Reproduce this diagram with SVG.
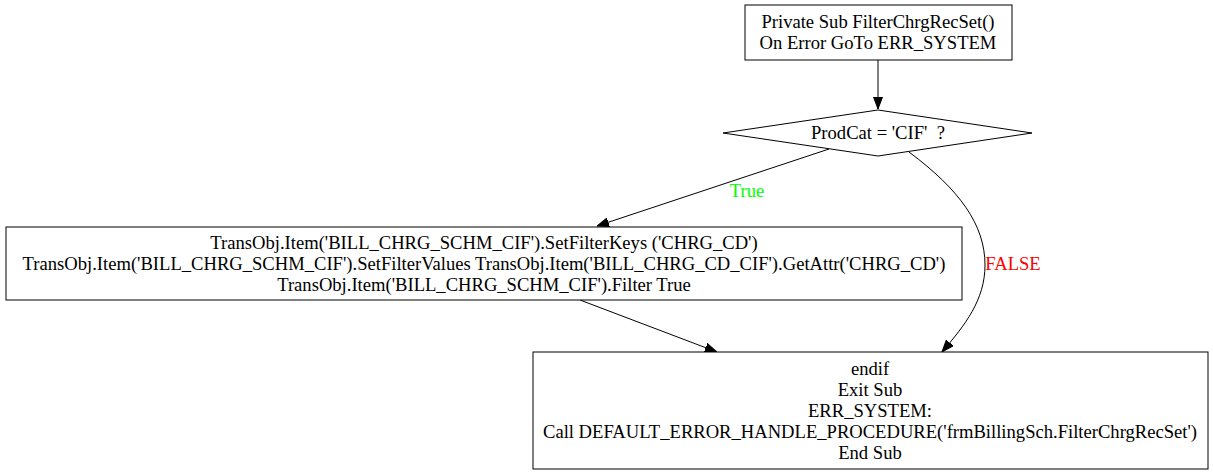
<svg xmlns="http://www.w3.org/2000/svg" width="1213" height="475" viewBox="0 0 1213 475">
<style>
text{font-family:"Liberation Serif","Times New Roman",serif;font-size:18.6px;text-anchor:middle;fill:#000;white-space:pre}
.box{fill:#fff;stroke:#000;stroke-width:1}
.edge{fill:none;stroke:#000;stroke-width:1}
</style>
<defs>
<marker id="ah" markerWidth="12" markerHeight="10" refX="12" refY="5" orient="auto" markerUnits="userSpaceOnUse">
<path d="M0,0.5 L12,5 L0,9.5 Z" fill="#000" stroke="#000" stroke-width="1"/>
</marker>
</defs>
<rect width="1213" height="475" fill="#fff"/>
<g id="edges">
<path class="edge" d="M878,60 L878,109" marker-end="url(#ah)"/>
<path class="edge" d="M829,149 L597,226" marker-end="url(#ah)"/>
<text x="747" y="197" style="fill:#00ff00">True</text>
<path class="edge" d="M909,152 C960,190 985,225 985,265 C985,300 965,325 942,352" marker-end="url(#ah)"/>
<text x="1013" y="270" style="fill:#ff0000">FALSE</text>
<path class="edge" d="M580,300 L717,352" marker-end="url(#ah)"/>
</g>
<g id="start">
<rect class="box" x="745" y="5" width="267" height="55"/>
<text x="878" y="28">Private Sub FilterChrgRecSet()</text>
<text x="878" y="49">On Error GoTo ERR_SYSTEM</text>
</g>
<g id="decision">
<polygon class="box" points="878,110 1032,133 878,156 723,133"/>
<text x="878" y="139" xml:space="preserve">ProdCat = 'CIF'  ?</text>
</g>
<g id="filter">
<rect class="box" x="6" y="227" width="956" height="73"/>
<text x="484" y="249">TransObj.Item('BILL_CHRG_SCHM_CIF').SetFilterKeys ('CHRG_CD')</text>
<text x="484" y="270">TransObj.Item('BILL_CHRG_SCHM_CIF').SetFilterValues TransObj.Item('BILL_CHRG_CD_CIF').GetAttr('CHRG_CD')</text>
<text x="484" y="291">TransObj.Item('BILL_CHRG_SCHM_CIF').Filter True</text>
</g>
<g id="end">
<rect class="box" x="533" y="352" width="675" height="117"/>
<text x="870" y="375">endif</text>
<text x="870" y="396">Exit Sub</text>
<text x="870" y="417">ERR_SYSTEM:</text>
<text x="870" y="438">Call DEFAULT_ERROR_HANDLE_PROCEDURE('frmBillingSch.FilterChrgRecSet')</text>
<text x="870" y="459">End Sub</text>
</g>
</svg>
